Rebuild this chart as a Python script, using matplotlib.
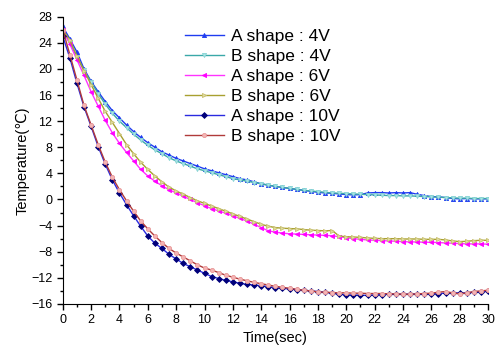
import numpy as np
import matplotlib
matplotlib.use('Agg')
import matplotlib.pyplot as plt
from matplotlib.ticker import MultipleLocator

plt.rcParams['font.family'] = ['Liberation Sans', 'DejaVu Sans']

# 采样时间 (每0.5秒一个点)
time_sec = np.arange(0, 30.5, 0.5)

a_4v = [26.5, 24.6, 22.6, 20.0, 18.1, 16.5, 15.0, 13.6, 12.5, 11.4,
        10.4, 9.5, 8.7, 8.0, 7.3, 6.8, 6.3, 5.9, 5.5, 5.1,
        4.7, 4.4, 4.1, 3.8, 3.5, 3.2, 3.0, 2.7, 2.4, 2.2,
        2.0, 1.85, 1.7, 1.55, 1.4, 1.25, 1.1, 1.0, 0.95, 0.85,
        0.75, 0.7, 0.75, 1.0, 1.05, 1.05, 1.0, 1.05, 1.0, 1.05,
        0.8, 0.6, 0.45, 0.4, 0.3, 0.15, 0.1, 0.15, 0.1, 0.1, 0.1]
b_4v = [26.0, 24.0, 21.8, 19.8, 18.0, 16.2, 14.6, 13.2, 12.0, 11.0,
        10.0, 9.1, 8.3, 7.6, 7.0, 6.4, 5.9, 5.5, 5.1, 4.7,
        4.4, 4.1, 3.8, 3.5, 3.2, 3.0, 2.8, 2.6, 2.4, 2.2,
        2.0, 1.85, 1.7, 1.55, 1.4, 1.3, 1.2, 1.1, 1.0, 0.95,
        0.9, 0.85, 0.8, 0.75, 0.7, 0.65, 0.6, 0.6, 0.55, 0.55,
        0.5, 0.45, 0.4, 0.35, 0.3, 0.25, 0.2, 0.2, 0.15, 0.15, 0.15]
a_6v = [26.0, 23.8, 21.4, 19.0, 16.5, 14.3, 12.1, 10.2, 8.6, 7.2,
        5.9, 4.6, 3.6, 2.8, 2.1, 1.5, 1.0, 0.5, 0.0, -0.5,
        -0.95, -1.4, -1.75, -2.1, -2.5, -2.9, -3.3, -3.8, -4.3, -4.8,
        -5.0, -5.15, -5.25, -5.3, -5.35, -5.4, -5.45, -5.5, -5.55, -5.7,
        -5.85, -6.0, -6.1, -6.2, -6.25, -6.3, -6.35, -6.4, -6.45, -6.5,
        -6.5, -6.55, -6.55, -6.6, -6.65, -6.7, -6.75, -6.8, -6.8, -6.8, -6.85]
b_6v = [26.0, 24.4, 22.0, 19.7, 17.6, 15.5, 13.5, 11.8, 10.1, 8.4,
        7.0, 5.7, 4.6, 3.6, 2.7, 1.9, 1.3, 0.8, 0.3, -0.2,
        -0.6, -1.0, -1.4, -1.8, -2.2, -2.6, -3.0, -3.4, -3.8, -4.1,
        -4.3, -4.4, -4.45, -4.5, -4.6, -4.7, -4.75, -4.8, -4.75, -5.6,
        -5.7, -5.75, -5.8, -5.9, -5.95, -6.0, -6.0, -6.0, -6.05, -6.05,
        -6.05, -6.1, -6.1, -6.1, -6.2, -6.35, -6.45, -6.4, -6.3, -6.25, -6.25]
a_10v = [25.0, 21.7, 17.8, 14.2, 11.2, 8.1, 5.4, 3.0, 1.0, -0.8,
         -2.5, -4.1, -5.6, -6.7, -7.5, -8.4, -9.1, -9.8, -10.3, -10.8,
         -11.3, -11.8, -12.1, -12.4, -12.6, -12.85, -13.0, -13.1, -13.2, -13.35,
         -13.5, -13.6, -13.7, -13.8, -13.9, -14.0, -14.1, -14.2, -14.35, -14.5,
         -14.6, -14.65, -14.65, -14.7, -14.6, -14.55, -14.5, -14.5, -14.5, -14.5,
         -14.45, -14.5, -14.45, -14.4, -14.35, -14.3, -14.3, -14.3, -14.2, -14.15, -14.05]
b_10v = [26.0, 22.2, 18.3, 14.4, 11.4, 8.4, 5.7, 3.4, 1.5, -0.2,
         -1.8, -3.3, -4.5, -5.6, -6.6, -7.5, -8.2, -8.8, -9.4, -10.0,
         -10.5, -10.8, -11.2, -11.6, -11.9, -12.2, -12.45, -12.7, -12.9, -13.1,
         -13.3, -13.45, -13.6, -13.75, -13.9, -14.0, -14.15, -14.2, -14.25, -14.3,
         -14.3, -14.35, -14.35, -14.4, -14.4, -14.4, -14.45, -14.45, -14.5, -14.5,
         -14.45, -14.4, -14.35, -14.2, -14.1, -14.3, -14.45, -14.3, -14.1, -14.0, -13.9]

labels = ['A shape : 4V', 'B shape : 4V', 'A shape : 6V',
          'B shape : 6V', 'A shape : 10V', 'B shape : 10V']

fig = plt.figure(figsize=(4.98, 3.47), dpi=100)
ax = fig.add_axes([0.126, 0.124, 0.854, 0.828])

# 线条样式: (数据, 线色, 标记, 标记面色, 标记边色)
styles = [
    (a_4v, '#1f3cf0', '^', '#1f3cf0', '#1f3cf0'),
    (b_4v, '#3aa8a8', 'v', '#a8e4e4', '#88d4d4'),
    (a_6v, '#ff33ff', '<', '#ff00ff', '#ff00ff'),
    (b_6v, '#a8a030', '>', '#e0dca0', '#c8c070'),
    (a_10v, '#2a2ae0', 'D', '#00007a', '#00007a'),
    (b_10v, '#b03a3a', 'o', '#f4b4b4', '#e89898'),
]
for (vals, color, mk, mfc, mec), lab in zip(styles, labels):
    ax.plot(time_sec, vals, color=color, lw=1.0, marker=mk, ms=3,
            mfc=mfc, mec=mec, mew=0.6, label=lab)

ax.set_xlim(0, 30)
ax.set_ylim(-16, 28)
ax.xaxis.set_major_locator(MultipleLocator(2))
ax.xaxis.set_minor_locator(MultipleLocator(1))
ax.yaxis.set_major_locator(MultipleLocator(4))
ax.yaxis.set_minor_locator(MultipleLocator(2))
ax.tick_params(which='major', direction='out', length=4, width=1, labelsize=9)
ax.tick_params(which='minor', direction='out', length=2.5, width=1)
ax.spines['top'].set_visible(False)
ax.spines['right'].set_visible(False)

ax.set_xlabel('Time(sec)', fontsize=10.5, labelpad=3)
ax.set_ylabel('Temperature(℃)', fontsize=10.5, labelpad=1)

ax.legend(loc='upper left', bbox_to_anchor=(0.27, 0.98), frameon=False,
          fontsize=12.5, handlelength=2.3, handletextpad=0.35, labelspacing=0.27,
          borderaxespad=0)

fig.savefig('out.png', dpi=100)
